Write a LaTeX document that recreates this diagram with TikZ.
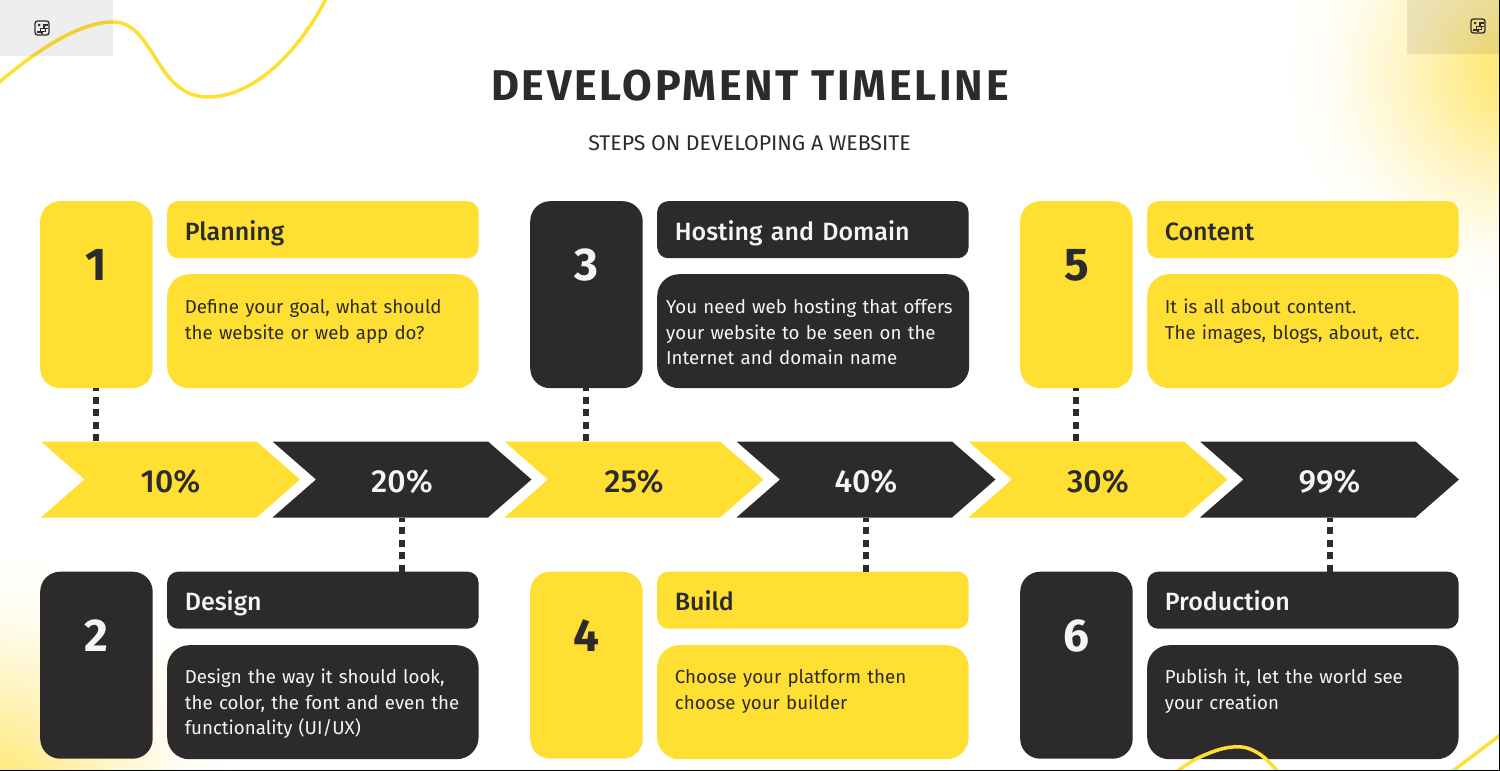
\documentclass[tikz,border=0pt]{standalone}
\usepackage{fontspec}
\setmainfont{Fira Sans}
\newfontfamily\medfont{Fira Sans Medium}
\usetikzlibrary{shapes.symbols}
\definecolor{tlyellow}{HTML}{FFE032}
\definecolor{tldark}{HTML}{2D2A2C}
\definecolor{tllight}{HTML}{F6F4F5}
\definecolor{tlglow}{HTML}{FFE97F}
\pgfdeclareradialshading{tlradial}{\pgfpoint{0bp}{0bp}}{color(0bp)=(tlglow); color(3bp)=(tlglow); color(12bp)=(tlglow!45!white); color(19bp)=(tlglow!10!white); color(25bp)=(white); color(50bp)=(white)}
\tikzset{
  numcard/.style={rounded corners=20pt, minimum width=112.5pt, minimum height=187pt, inner sep=0pt, anchor=north west, font=\fontsize{46}{46}\bfseries\selectfont, text height=79.5pt, text depth=107.5pt},
  headbox/.style={rounded corners=11pt, text width=276pt, inner xsep=17.7pt, inner ysep=0pt, anchor=north west, align=left, text height=39pt, text depth=18pt, font=\medfont\fontsize{25}{25}\selectfont},
  bodybox/.style={rounded corners=22pt, text width=276pt, inner xsep=17.7pt, inner ysep=0pt, anchor=north west, align=left, text height=39pt, text depth=75pt, font=\fontsize{18.7}{25.8}\selectfont},
  yellowbox/.style={fill=tlyellow, text=tldark},
  darkbox/.style={fill=tldark, text=tllight},
  chevron/.style={signal, signal from=west, signal to=east, signal pointer angle=82.3, minimum width=259pt, minimum height=76pt, inner sep=0pt, text height=26pt, text depth=0pt, font=\medfont\fontsize{32}{32}\selectfont},
  stem/.style={tldark, line width=6pt, dash pattern=on 7pt off 5.5pt},
  swoosh/.style={tlyellow, line width=3.5pt},
  imgicon/.pic={
    \draw[tldark, line width=1.3pt, rounded corners=2.5pt] (-7,-7) rectangle (7,7);
    \draw[tldark, line width=1.3pt] (-5,4) -- (-1.5,4) -- (-1.5,0.5) -- (2,0.5) -- (2,-3) -- (6,-3);
    \draw[tldark, line width=1.3pt] (0,6) -- (0,3.5) -- (3.5,3.5) -- (3.5,0.5) -- (6,0.5);
    \fill[tldark] (-3,-3) circle (1.5pt);
  }
}
\begin{document}
\begin{tikzpicture}[x=1pt, y=-1pt]
  \useasboundingbox (0,0) rectangle (1500,771);
  \fill[white] (0,0) rectangle (1500,771);
  \begin{scope}
    \clip (0,0) rectangle (1500,771);
    \shade[shading=tlradial] (1515,70) circle (235);
    \shade[shading=tlradial] (-10,800) circle (250);
  \end{scope}
  % curves in the corners
  \draw[swoosh] (-3,84) .. controls (35,52) and (78,22) .. (113,22) .. controls (155,22) and (155,97) .. (208,97) .. controls (255,97) and (300,50) .. (327,-3);
  \fill[black, opacity=0.065] (0,0) rectangle (113,56);
  \fill[black, opacity=0.08] (1407,0) rectangle (1500,54);
  \pic at (42,28) {imgicon};
  \pic at (1478,26) {imgicon};

  \node[font=\bfseries\fontsize{43}{43}\selectfont, text=tldark, inner sep=0pt] (title) at (750,86) {\addfontfeatures{LetterSpace=6.3}DEVELOPMENT TIMELINE};
  \node[font=\fontsize{21.3}{21.3}\selectfont, text=tldark, inner sep=0pt] (subtitle) at (749.5,143) {STEPS ON DEVELOPING A WEBSITE};

  % upper row
  \node[numcard, yellowbox] (card1) at (40,201) {1};
  \node[headbox, yellowbox] (head1) at (167,201) {Planning};
  \node[bodybox, yellowbox] (body1) at (167,274) {Define your goal, what should\\the website or web app do?};
  \node[numcard, darkbox] (card3) at (530,201) {3};
  \node[headbox, darkbox] (head3) at (657,201) {Hosting and Domain};
  \node[bodybox, darkbox, inner xsep=9pt, text width=294pt] (body3) at (657,274) {You need web hosting that offers\\your website to be seen on the\\Internet and domain name};
  \node[numcard, yellowbox] (card5) at (1020,201) {5};
  \node[headbox, yellowbox] (head5) at (1147,201) {Content};
  \node[bodybox, yellowbox] (body5) at (1147,274) {It is all about content.\\The images, blogs, about, etc.};

  % arrows
  \node[chevron, yellowbox] (chev1) at (170.5,479.5) {10\%};
  \node[chevron, darkbox] (chev2) at (402,479.5) {20\%};
  \node[chevron, yellowbox] (chev3) at (634,479.5) {25\%};
  \node[chevron, darkbox] (chev4) at (866,479.5) {40\%};
  \node[chevron, yellowbox] (chev5) at (1098,479.5) {30\%};
  \node[chevron, darkbox] (chev6) at (1329.5,479.5) {99\%};

  % lower row
  \node[numcard, darkbox] (card2) at (40,571.5) {2};
  \node[headbox, darkbox] (head2) at (167,571.5) {Design};
  \node[bodybox, darkbox, text height=38pt, text depth=76pt] (body2) at (167,645) {Design the way it should look,\\the color, the font and even the\\functionality (UI/UX)};
  \node[numcard, yellowbox] (card4) at (530,571.5) {4};
  \node[headbox, yellowbox] (head4) at (657,571.5) {Build};
  \node[bodybox, yellowbox, text height=38pt, text depth=76pt] (body4) at (657,645) {Choose your platform then\\choose your builder};
  \node[numcard, darkbox] (card6) at (1020,571.5) {6};
  \node[headbox, darkbox] (head6) at (1147,571.5) {Production};
  \node[bodybox, darkbox, text height=38pt, text depth=76pt] (body6) at (1147,645) {Publish it, let the world see\\your creation};

  \draw[stem] (card1.south |- chev1.north) -- (card1.south);
  \draw[stem] (card3.south |- chev3.north) -- (card3.south);
  \draw[stem] (card5.south |- chev5.north) -- (card5.south);
  \draw[stem] (chev2.south |- head2.north) -- (chev2.south);
  \draw[stem] (chev4.south |- head4.north) -- (chev4.south);
  \draw[stem] (chev6.south |- head6.north) -- (chev6.south);

  \draw[swoosh] plot[smooth, tension=0.7] coordinates {(1175,773) (1200,757) (1233,747) (1258,753) (1279,773)};
  \draw[swoosh] (1450,773) -- (1503,733);
  % frame lines of the screenshot
  \draw[black, line width=1.5pt] (0,770.3) -- (1500,770.3);
  \draw[black, line width=1.5pt] (1499.3,0) -- (1499.3,771);
\end{tikzpicture}
\end{document}
